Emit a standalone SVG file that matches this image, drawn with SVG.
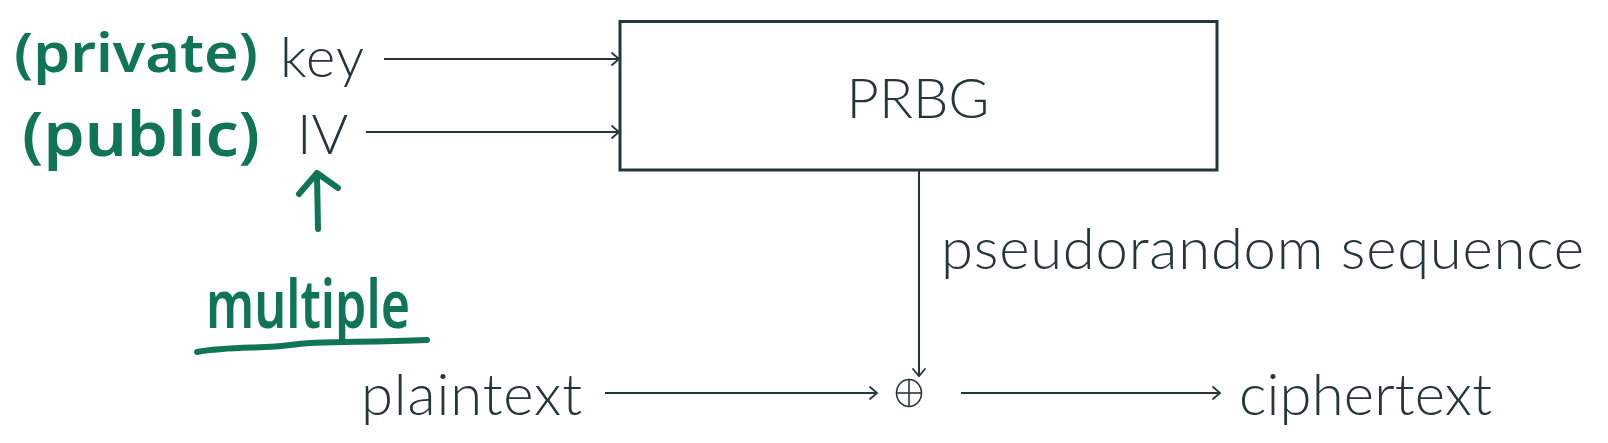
<svg xmlns="http://www.w3.org/2000/svg" width="1608" height="443" viewBox="0 0 1608 443">
  <style>
    .lbl { font-family: Lato, "Open Sans", "Liberation Sans", sans-serif; font-weight: 300; fill: #263539; }
    .hand { font-family: "Noto Sans", "Open Sans", sans-serif; font-weight: 600; fill: #0f7556; }
    .conn { stroke: #263539; stroke-width: 2; fill: none; }
    .ink { stroke: #0f7556; stroke-width: 6; fill: none; stroke-linecap: round; stroke-linejoin: round; }
  </style>
  <defs>
    <marker id="arr" markerUnits="userSpaceOnUse" markerWidth="12" markerHeight="16" refX="9" refY="7" orient="auto">
      <path d="M2,1 L9,7 L2,13" fill="none" stroke="#263539" stroke-width="1.8" stroke-linecap="round"/>
    </marker>
  </defs>
  <rect width="1608" height="443" fill="#ffffff"/>

  <g id="connectors">
    <line class="conn" x1="384" y1="59" x2="619" y2="59" marker-end="url(#arr)"/>
    <line class="conn" x1="366" y1="132" x2="619" y2="132" marker-end="url(#arr)"/>
    <line class="conn" x1="919" y1="170" x2="919" y2="376" marker-end="url(#arr)"/>
    <line class="conn" x1="605" y1="393" x2="877" y2="393" marker-end="url(#arr)"/>
    <line class="conn" x1="961" y1="393" x2="1220" y2="393" marker-end="url(#arr)"/>
  </g>

  <g id="prbg">
    <rect x="620" y="21.5" width="597" height="148.5" fill="none" stroke="#263539" stroke-width="3"/>
    <text class="lbl" x="918" y="118" font-size="56" text-anchor="middle">PRBG</text>
  </g>

  <g id="key">
    <text class="lbl" x="280" y="77" font-size="56" textLength="84">key</text>
  </g>
  <g id="iv">
    <text class="lbl" x="297" y="154" font-size="56">IV</text>
  </g>
  <g id="pseudorandom">
    <text class="lbl" x="941" y="269" font-size="58" textLength="643">pseudorandom sequence</text>
  </g>
  <g id="plaintext">
    <text class="lbl" x="361" y="415" font-size="58" textLength="221">plaintext</text>
  </g>
  <g id="xor">
    <ellipse cx="909" cy="393" rx="12.5" ry="13.5" fill="none" stroke="#263539" stroke-width="1.6"/>
    <line x1="896.5" y1="393" x2="921.5" y2="393" stroke="#263539" stroke-width="1.6"/>
    <line x1="909" y1="379.5" x2="909" y2="406.5" stroke="#263539" stroke-width="1.6"/>
  </g>
  <g id="ciphertext">
    <text class="lbl" x="1239" y="415" font-size="58" textLength="253">ciphertext</text>
  </g>

  <g id="annotations">
    <text class="hand" x="14" y="72" font-size="54" textLength="244" lengthAdjust="spacingAndGlyphs">(private)</text>
    <text class="hand" x="22" y="156" font-size="62" textLength="238" lengthAdjust="spacingAndGlyphs">(public)</text>
    <path class="ink" d="M318,229 L317,174"/>
    <path class="ink" d="M299,194 L317,173 L338,188"/>
    <text class="hand" x="206" y="328" font-size="66" textLength="204" lengthAdjust="spacingAndGlyphs">multiple</text>
    <path class="ink" d="M197,352 C230,346 265,349 290,345 C320,340 360,343 427,340"/>
  </g>
</svg>
